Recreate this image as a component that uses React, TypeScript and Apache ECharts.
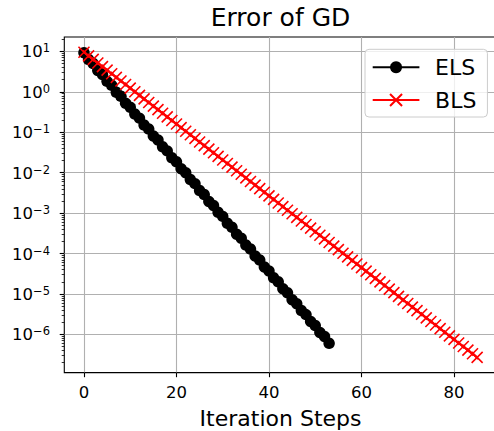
import React, { useEffect, useRef } from 'react';
import * as echarts from 'echarts';

// Error per iteration (steps 0..N-1)
const elsError = [
  9.33, 6.31, 5.01, 3.39, 2.69, 1.82, 1.45, 0.977, 0.776, 0.525,
  0.417, 0.282, 0.224, 0.151, 0.12, 0.0813, 0.0646, 0.0437, 0.0347, 0.0234,
  0.0186, 0.0126, 0.01, 0.00676, 0.00537, 0.00363, 0.00288, 0.00195, 0.00155, 0.00105,
  8.32e-4, 5.62e-4, 4.47e-4, 3.02e-4, 2.4e-4, 1.62e-4, 1.29e-4, 8.71e-5, 6.92e-5, 4.68e-5,
  3.72e-5, 2.51e-5, 2.0e-5, 1.35e-5, 1.07e-5, 7.24e-6, 5.75e-6, 3.89e-6, 3.09e-6, 2.09e-6,
  1.66e-6, 1.12e-6, 8.91e-7, 6.03e-7,
];

const blsError = [
  9.55, 7.78, 6.35, 5.17, 4.22, 3.44, 2.8, 2.28, 1.86, 1.52,
  1.24, 1.01, 0.821, 0.67, 0.546, 0.445, 0.363, 0.296, 0.241, 0.196,
  0.16, 0.13, 0.106, 0.0867, 0.0706, 0.0576, 0.0469, 0.0383, 0.0312, 0.0254,
  0.0207, 0.0169, 0.0138, 0.0112, 0.00915, 0.00746, 0.00608, 0.00495, 0.00404, 0.00329,
  0.00268, 0.00219, 0.00178, 0.00145, 0.00118, 9.65e-4, 7.87e-4, 6.41e-4, 5.23e-4, 4.26e-4,
  3.47e-4, 2.83e-4, 2.31e-4, 1.88e-4, 1.53e-4, 1.25e-4, 1.02e-4, 8.3e-5, 6.77e-5, 5.52e-5,
  4.5e-5, 3.67e-5, 2.99e-5, 2.44e-5, 1.99e-5, 1.62e-5, 1.32e-5, 1.08e-5, 8.76e-6, 7.14e-6,
  5.82e-6, 4.74e-6, 3.87e-6, 3.15e-6, 2.57e-6, 2.09e-6, 1.71e-6, 1.39e-6, 1.13e-6, 9.24e-7,
  7.54e-7, 6.14e-7, 5.01e-7, 4.08e-7, 3.33e-7, 2.71e-7,
];

const seriesNames = ['ELS', 'BLS'];
const xTickValues = [0, 20, 40, 60, 80];
const yTickExponents = [-6, -5, -4, -3, -2, -1, 0, 1];
const titleText = 'Error of GD';
const xAxisTitle = 'Iteration Steps';

const FONT = 'DejaVu Sans';

export default function App() {
  const ref = useRef<HTMLDivElement>(null);

  useEffect(() => {
    const chart = echarts.init(ref.current!, null, { renderer: 'svg' });
    const lg = (v: number) => Math.log10(v);
    const allLogs = [...elsError, ...blsError].map(lg);
    const lo = Math.min(...allLogs);
    const hi = Math.max(...allLogs);
    const yPad = 0.05 * (hi - lo);
    const yMin = lo - yPad;
    const yMax = hi + yPad;
    const xMaxData = Math.max(elsError.length, blsError.length) - 1;
    const xPad = 0.05 * xMaxData;

    const minorTicks: number[] = [];
    for (let n = Math.floor(yMin); n <= Math.ceil(yMax); n++) {
      for (let k = 2; k <= 9; k++) {
        const v = n + Math.log10(k);
        if (v >= yMin && v <= yMax) minorTicks.push(v);
      }
    }
    const sup = (n: number) => (n < 0 ? '\u2212' + -n : String(n));

    const option: any = {
      animation: false,
      backgroundColor: '#ffffff',
      textStyle: { fontFamily: FONT },
      graphic: [
        {
          type: 'text',
          x: 280.5,
          y: 17.5,
          style: {
            text: titleText,
            fill: '#000',
            fontSize: 25,
            fontFamily: FONT,
            align: 'center',
            verticalAlign: 'middle',
          },
        },
      ],
      grid: {
        left: 64.3,
        top: 37,
        width: 432.5,
        height: 335.6,
        show: true,
        borderColor: '#000',
        borderWidth: 1.1,
        backgroundColor: 'transparent',
        containLabel: false,
        outerBoundsMode: 'none',
      },
      legend: {
        data: seriesNames,
        orient: 'vertical',
        left: 365,
        top: 49.3,
        itemWidth: 46.7,
        itemHeight: 15,
        itemGap: 8.7,
        padding: [6, 11, 5, 6.7],
        backgroundColor: 'rgba(255,255,255,0.8)',
        borderColor: '#cccccc',
        borderWidth: 1,
        borderRadius: 4,
        textStyle: {
          fontSize: 22,
          color: '#000',
          fontFamily: FONT,
          lineHeight: 24,
          padding: [0, 0, 0, 10.7],
        },
      },
      xAxis: {
        type: 'value',
        min: -xPad,
        max: xMaxData + xPad,
        name: xAxisTitle,
        nameLocation: 'middle',
        nameGap: 35,
        nameTextStyle: { fontSize: 22, color: '#000', fontFamily: FONT },
        axisLine: { show: false, onZero: false },
        axisTick: {
          show: true,
          length: 4.6,
          lineStyle: { color: '#000', width: 1.1 },
          customValues: xTickValues,
        },
        axisLabel: {
          customValues: xTickValues,
          fontSize: 16.5,
          color: '#000',
          fontFamily: FONT,
          margin: 11,
        },
        splitLine: { show: true, lineStyle: { color: '#b0b0b0', width: 1.1 } },
      },
      yAxis: [
        {
          type: 'value',
          position: 'left',
          min: yMin,
          max: yMax,
          axisLine: { show: false, onZero: false },
          axisTick: {
            show: true,
            length: 4.6,
            lineStyle: { color: '#000', width: 1.1 },
            customValues: yTickExponents,
          },
          axisLabel: {
            customValues: yTickExponents,
            margin: 14.3,
            formatter: (v: number) => `{b|10}{s|${sup(Math.round(v))}}`,
            rich: {
              b: { fontSize: 16.5, fontFamily: FONT, color: '#000', verticalAlign: 'bottom', lineHeight: 18 },
              s: { fontSize: 11.5, fontFamily: FONT, color: '#000', verticalAlign: 'top', lineHeight: 11.5 },
            },
          },
          splitLine: { show: true, lineStyle: { color: '#b0b0b0', width: 1.1 } },
        },
        {
          type: 'value',
          position: 'left',
          offset: 0,
          min: yMin,
          max: yMax,
          axisLine: { show: false, onZero: false },
          axisTick: {
            show: true,
            length: 2.6,
            lineStyle: { color: '#000', width: 0.8 },
            customValues: minorTicks,
          },
          axisLabel: { show: false },
          splitLine: { show: false },
        },
      ],
      series: [
        {
          name: seriesNames[0],
          type: 'line',
          yAxisIndex: 0,
          data: elsError.map((v, i) => [i, lg(v)]),
          symbol: 'circle',
          symbolSize: 11.5,
          itemStyle: { color: '#000' },
          lineStyle: { color: '#000', width: 2 },
          z: 2,
        },
        {
          name: seriesNames[1],
          type: 'line',
          yAxisIndex: 0,
          data: blsError.map((v, i) => [i, lg(v)]),
          symbol: 'path://M0,0L10,10M10,0L0,10',
          symbolSize: 11,
          itemStyle: { color: 'rgba(0,0,0,0)', borderColor: '#ff0000', borderWidth: 1.6 },
          lineStyle: { color: '#ff0000', width: 2 },
          z: 3,
        },
      ],
    };

    chart.setOption(option);
    return () => chart.dispose();
  }, []);

  return (
    <div
      ref={ref}
      style={{ position: 'fixed', left: 0, top: 0, width: 494, height: 431 }}
    />
  );
}
